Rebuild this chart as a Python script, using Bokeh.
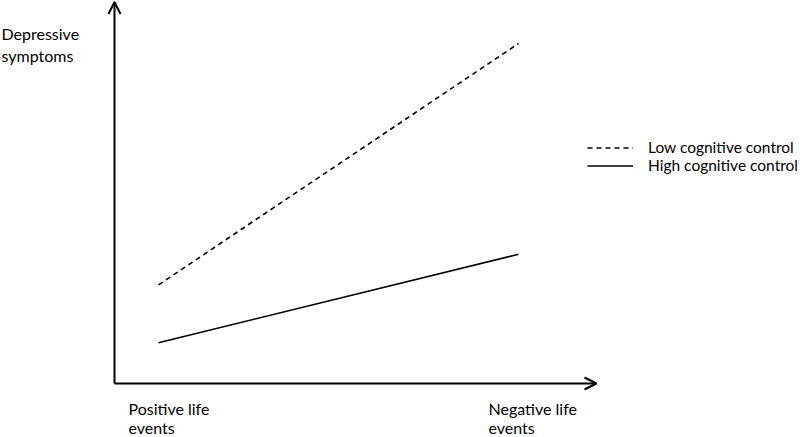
from bokeh.plotting import figure
from bokeh.models import Arrow, OpenHead, Legend, LegendItem, Label, Range1d
from bokeh.core.properties import value
from bokeh.embed import file_html
from bokeh.resources import INLINE

# ---- data ----
x_labels_l1 = ["Positive life", "Negative life"]
x_labels_l2 = ["events", "events"]
x_pos = [0, 1]
low_cc = [2.9, 10.0]
high_cc = [1.2, 3.8]
series_names = ["Low cognitive control", "High cognitive control"]
y_title = "Depressive\nsymptoms"

# ---- layout (pixels) ----
W, H = 800, 437
X0, PXX = 158, 360.0   # x=0 at 158 px, 360 px per unit
Y0, PXY = 54, 34.0     # y=0 at 54 px from bottom, 34 px per unit
FONT = "Lato"

p = figure(width=W, height=H, output_backend="svg", toolbar_location=None,
           x_range=Range1d(-X0 / PXX, (W - X0) / PXX),
           y_range=Range1d(-Y0 / PXY, (H - Y0) / PXY),
           x_axis_type=None, y_axis_type=None, min_border=0,
           outline_line_color=None, background_fill_color="white",
           border_fill_color="white")
p.grid.visible = False

ax_x = -44 / PXX
top_y = (H - 1.5 - Y0) / PXY
right_x = 438 / PXX

p.add_layout(Arrow(x_start=ax_x, y_start=0, x_end=ax_x, y_end=top_y,
                   line_width=2, line_color="black",
                   end=OpenHead(size=12, line_width=2, line_color="black")))
p.add_layout(Arrow(x_start=ax_x, y_start=0, x_end=right_x, y_end=0,
                   line_width=2, line_color="black",
                   end=OpenHead(size=12, line_width=2, line_color="black")))

r_low = p.line(x_pos, low_cc, line_color="black", line_width=1.6, line_dash="5 4")
r_high = p.line(x_pos, high_cc, line_color="black", line_width=1.6)

legend = Legend(items=[LegendItem(label=series_names[0], renderers=[r_low]),
                       LegendItem(label=series_names[1], renderers=[r_high])],
                location=(587, 263), orientation="vertical", padding=0, margin=0,
                spacing=-3, glyph_width=46, glyph_height=17, label_height=17,
                label_standoff=15, border_line_color=None,
                background_fill_alpha=0, label_text_font=FONT,
                label_text_font_size="15.5px", label_text_color="black")
p.add_layout(legend)

common = dict(text_font=value(FONT), text_font_size="16px", text_align="left",
              text_color="black")
p.text(x=x_pos, y=[0, 0], text=x_labels_l1, x_offset=-30, y_offset=15,
       text_baseline="top", **common)
p.text(x=x_pos, y=[0, 0], text=x_labels_l2, x_offset=-30, y_offset=Y0 - 1,
       text_baseline="bottom", **common)

p.add_layout(Label(x=p.x_range.start, y=(H - 23 - Y0) / PXY, x_offset=1,
                   text=y_title,
                   text_font=FONT, text_font_size="16px", text_baseline="top",
                   text_align="left", text_line_height=1.18, text_color="black"))

open("out.html", "w").write(file_html(p, INLINE))
